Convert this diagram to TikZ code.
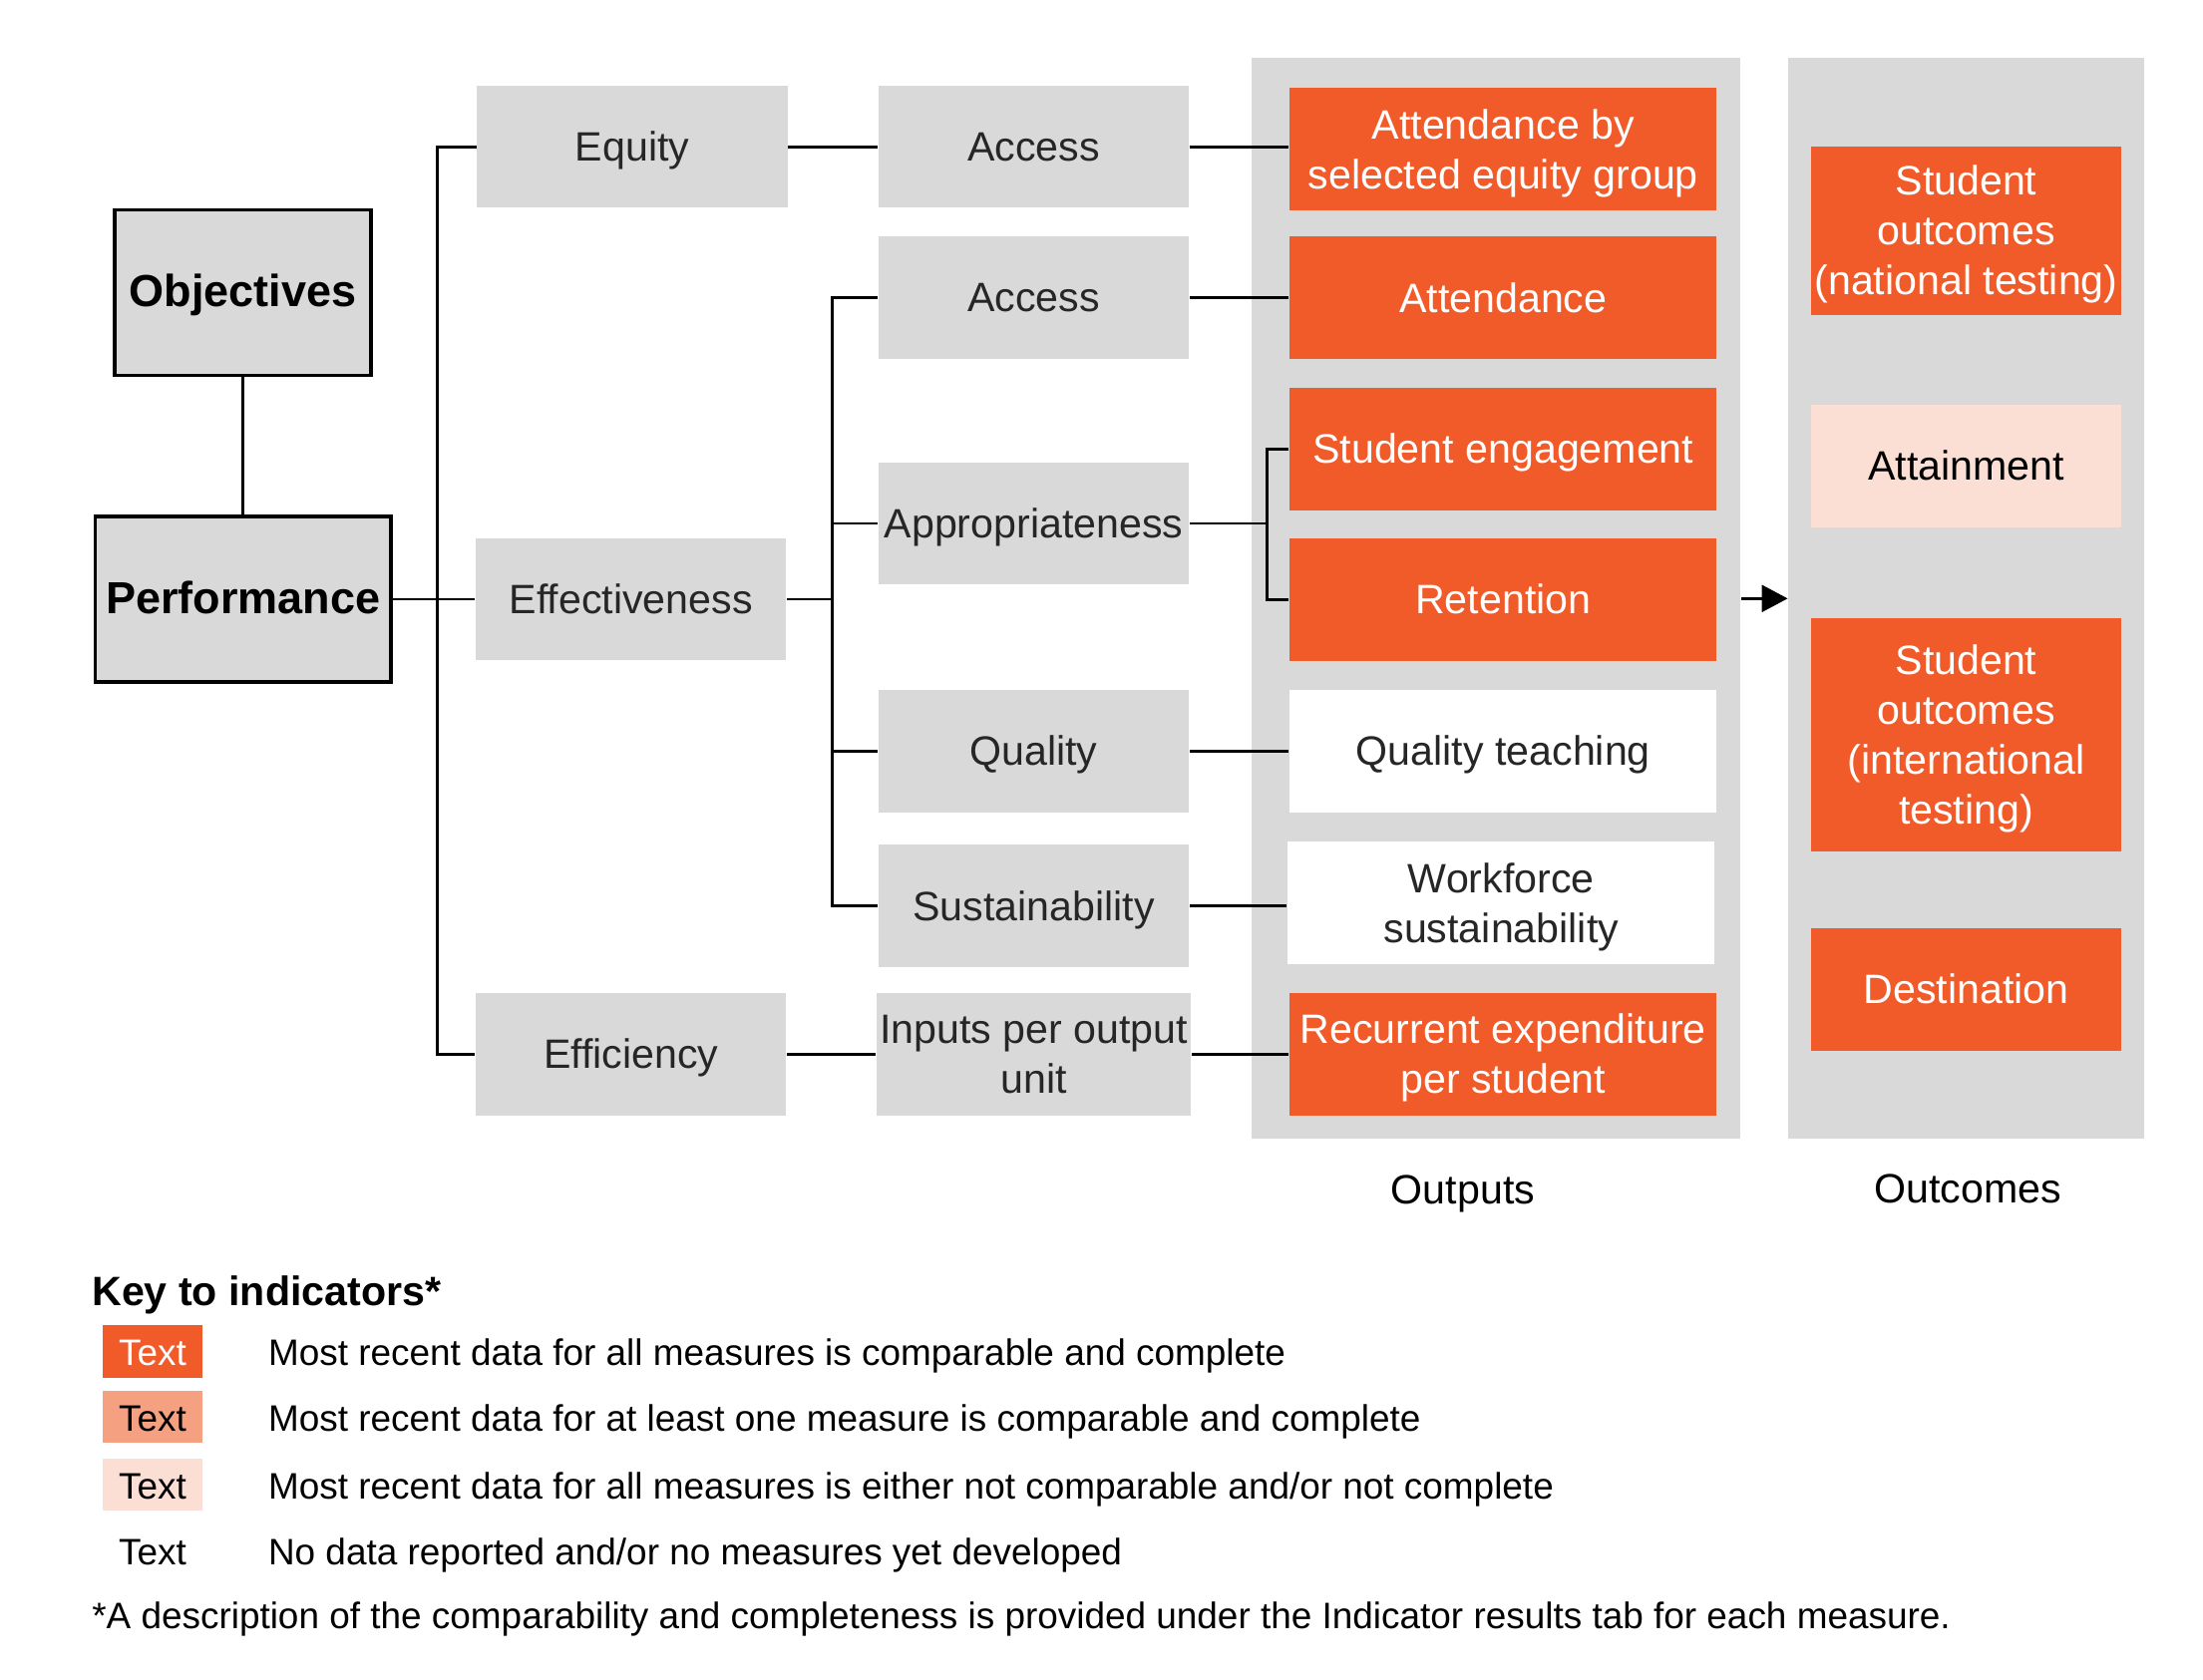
\documentclass[tikz,border=0pt]{standalone}
\usepackage{fontspec}
\setmainfont{Liberation Sans}
\usepackage{xcolor}
\usepackage{tikz}
\usetikzlibrary{arrows.meta,positioning}

\definecolor{pcgray}{HTML}{D9D9D9}
\definecolor{pcorange}{HTML}{F15A29}
\definecolor{pcsalmon}{HTML}{F6A082}
\definecolor{pcpale}{HTML}{FBDED4}
\definecolor{pctext}{HTML}{262626}

\newcommand\nodestrut{\rule[-2.6pt]{0pt}{13.4pt}}

\begin{document}
\begin{tikzpicture}[
    x=0.01cm, y=-0.01cm,
    struts/.style={execute at begin node=\nodestrut, execute at end node=\nodestrut},
    lbl/.style={struts, font=\fontsize{11.7}{14.2}\selectfont, align=center, inner sep=1pt},
    topbox/.style={lbl, draw, line width=1pt, fill=pcgray, minimum height=1.66cm, font=\fontsize{12.8}{15}\selectfont\bfseries},
    panel/.style={fill=pcgray, inner sep=0pt, minimum height=10.83cm},
    dimbox/.style={lbl, fill=pcgray, text=pctext, minimum width=3.11cm, minimum height=1.225cm},
    outbox/.style={lbl, minimum width=4.28cm, minimum height=1.23cm},
    resbox/.style={lbl, minimum width=3.115cm, minimum height=1.226cm},
    full/.style={fill=pcorange, text=white},
    part/.style={fill=pcpale, text=black},
    nodata/.style={fill=white, text=pctext},
    swatch/.style={struts, minimum width=1cm, minimum height=0.52cm, inner sep=0pt, font=\fontsize{10.5}{12.6}\selectfont},
    keytext/.style={struts, inner sep=0pt, font=\fontsize{10.5}{12.6}\selectfont},
    conn/.style={line width=0.75pt},
    arr/.style={-{Triangle[length=2.6mm, width=2.7mm]}, line width=0.75pt}
]
    \useasboundingbox (0,0) rectangle (2209,1685);

    % Output and outcome panels
    \node[panel, minimum width=4.903cm] (outp) at (1499.9,600.3) {};
    \node[panel, minimum width=3.565cm] (outc) at (1971.6,600.3) {};
    \node[lbl] (outlab) at (1467,1192.7) {Outputs};
    \node[lbl] (outclab) at (1973,1192) {Outcomes};

    % Objectives and performance
    \node[topbox, minimum width=2.57cm] (obj) at (243.4,293.4) {Objectives};
    \node[topbox, minimum width=2.96cm] (perf) at (243.8,601) {Performance};

    % Framework dimensions
    \node[dimbox] (equity) at (634,147.2) {Equity};
    \node[dimbox] (effect) at (632.7,601) {Effectiveness};
    \node[dimbox] (effic) at (632.7,1057.4) {Efficiency};

    \node[dimbox] (accA) at (1036.5,147.2) {Access};
    \node[dimbox] (accB) at (1036.5,298.5) {Access};
    \node[dimbox] (approp) at (1036.5,525) {Appropriateness};
    \node[dimbox] (qual) at (1036.5,753.4) {Quality};
    \node[dimbox] (sust) at (1036.5,908.6) {Sustainability};
    \node[dimbox] (inputs) at (1036.5,1057.4) {\nodestrut Inputs per output\\unit\nodestrut};

    % Outputs
    \node[outbox, full] (attgrp) at (1507.3,149.7) {\nodestrut Attendance by\\selected equity group\nodestrut};
    \node[outbox, full] (attend) at (1507.3,298.9) {Attendance};
    \node[outbox, full] (engage) at (1507.3,450.2) {Student engagement};
    \node[outbox, full] (retent) at (1507.3,601.3) {Retention};
    \node[outbox, nodata] (qteach) at (1507.3,753.3) {Quality teaching};
    \node[outbox, nodata] (wforce) at (1505.3,905.8) {\nodestrut Workforce\\sustainability\nodestrut};
    \node[outbox, full] (recur) at (1507.3,1057.4) {\nodestrut Recurrent expenditure\\per student\nodestrut};

    % Outcomes
    \node[resbox, full, minimum height=1.69cm] (natl) at (1971.5,231.4) {\nodestrut Student\\outcomes\\(national testing)\nodestrut};
    \node[resbox, part] (attain) at (1971.5,467.2) {Attainment};
    \node[resbox, full, minimum height=2.338cm] (intl) at (1971.5,736.7) {\nodestrut Student\\outcomes\\(international\\testing)\nodestrut};
    \node[resbox, full] (dest) at (1971.5,992.3) {Destination};

    % Connectors
    \coordinate (trA) at (438.6,0);
    \coordinate (trB) at (834.2,0);
    \coordinate (brk) at (1270.3,0);

    \draw[conn] (obj.south) -- (obj.south |- perf.north);
    \draw[conn] (perf.east) -- (effect.west);
    \draw[conn] (equity.west) -- (equity.west -| trA) -- (effic.west -| trA) -- (effic.west);
    \draw[conn] (equity) -- (accA);
    \draw[conn] (effic) -- (inputs);

    \draw[conn] (effect.east) -- (effect.east -| trB);
    \draw[conn] (accB.west) -- (accB.west -| trB) -- (sust.west -| trB) -- (sust.west);
    \draw[conn] (approp.west) -- (approp.west -| trB);
    \draw[conn] (qual.west) -- (qual.west -| trB);

    \draw[conn] (accA.east) -- (accA.east -| attgrp.west);
    \draw[conn] (accB.east) -- (accB.east -| attend.west);
    \draw[conn] (approp.east) -- (approp.east -| brk);
    \draw[conn] (engage.west) -- (engage.west -| brk) -- (retent.west -| brk) -- (retent.west);
    \draw[conn] (qual.east) -- (qual.east -| qteach.west);
    \draw[conn] (sust.east) -- (sust.east -| wforce.west);
    \draw[conn] (inputs.east) -- (inputs.east -| recur.west);

    \draw[arr] (outp.east) -- (outc.west);

    % Key
    \node[struts, anchor=west, inner sep=0pt, font=\fontsize{11.7}{14.2}\selectfont\bfseries] (keyhead) at (91.6,1294.7) {Key to indicators*};
    \node[swatch, full] (swA) at (152.9,1355.5) {Text};
    \node[swatch, fill=pcsalmon, text=black] (swB) at (152.9,1421.4) {Text};
    \node[swatch, part] (swC) at (152.9,1488.9) {Text};
    \node[swatch, text=black] (swD) at (152.9,1555) {Text};
    \node[keytext, right=0.647cm of swA] (keyA) {Most recent data for all measures is comparable and complete};
    \node[keytext, right=0.647cm of swB] (keyB) {Most recent data for at least one measure is comparable and complete};
    \node[keytext, right=0.647cm of swC] (keyC) {Most recent data for all measures is either not comparable and/or not complete};
    \node[keytext, right=0.647cm of swD] (keyD) {No data reported and/or no measures yet developed};
    \node[keytext, anchor=west] (foot) at (91.6,1619) {*A description of the comparability and completeness is provided under the Indicator results tab for each measure.};
\end{tikzpicture}
\end{document}
